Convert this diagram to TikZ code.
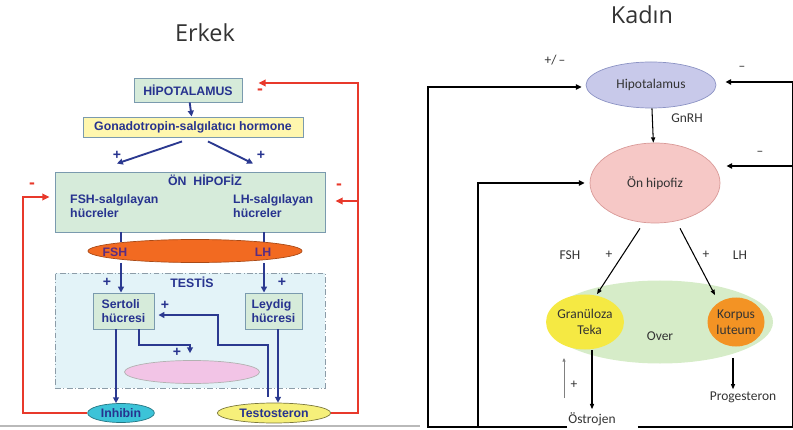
\documentclass[tikz,border=0pt]{standalone}
\usepackage{fontspec}
\setmainfont{Liberation Sans}
\newfontfamily\carfont{Carlito}
\newfontfamily\titlefont{Open Sans}
\usetikzlibrary{arrows.meta,positioning,calc,shapes.geometric}
\definecolor{boxgreen}{HTML}{D6EBDA}
\definecolor{boxedge}{HTML}{7A9AAE}
\definecolor{boxyellow}{HTML}{FFF7AE}
\definecolor{txtblue}{HTML}{27338F}
\definecolor{arrblue}{HTML}{2B3990}
\definecolor{fbred}{HTML}{E8392B}
\definecolor{fshorange}{HTML}{F26A21}
\definecolor{fshtxt}{HTML}{5A2D82}
\definecolor{testisfill}{HTML}{E3F3F8}
\definecolor{testisedge}{HTML}{8C9CA8}
\definecolor{pinkfill}{HTML}{F2C4E6}
\definecolor{inhcyan}{HTML}{3CC3D8}
\definecolor{tesyellow}{HTML}{F6F07A}
\definecolor{hypfill}{HTML}{C8C9EA}
\definecolor{hypedge}{HTML}{8C93C4}
\definecolor{onhfill}{HTML}{F6C8C6}
\definecolor{onhedge}{HTML}{D99A98}
\definecolor{overfill}{HTML}{D6ECC8}
\definecolor{granfill}{HTML}{F5E943}
\definecolor{korpfill}{HTML}{F39324}
\definecolor{darktxt}{HTML}{333333}

\begin{document}
\begin{tikzpicture}[x=0.03cm,y=-0.03cm,
    cellbox/.style={draw=boxedge,fill=boxgreen,line width=0.8pt,inner sep=0pt,
      font=\fontsize{10.5}{12.5}\selectfont\bfseries,text=txtblue,align=left},
    hormbox/.style={cellbox,fill=boxyellow},
    blobb/.style={ellipse,draw,line width=0.6pt,inner sep=0pt,
      font=\fontsize{10.5}{12.5}\selectfont\bfseries,text=txtblue},
    bluetxt/.style={font=\fontsize{10.5}{12.5}\selectfont\bfseries,text=txtblue,align=left,inner sep=0pt},
    plusb/.style={font=\fontsize{12}{12}\selectfont\bfseries,text=txtblue,inner sep=0pt},
    minusr/.style={font=\fontsize{15}{15}\selectfont\bfseries,text=fbred,inner sep=0pt},
    blarr/.style={-{Triangle[length=5pt,width=5pt]},arrblue,line width=1.6pt},
    blln/.style={arrblue,line width=1.6pt},
    redarr/.style={-{Triangle[length=6pt,width=5.5pt]},fbred,line width=1.5pt},
    redln/.style={fbred,line width=1.5pt},
    fem/.style={ellipse,draw,line width=0.6pt,inner sep=0pt,
      font=\carfont\fontsize{11.5}{13.5}\selectfont,text=darktxt,align=center},
    femtxt/.style={font=\carfont\fontsize{11.5}{13.5}\selectfont,text=darktxt,inner sep=0pt},
    blkarr/.style={-{Triangle[length=5pt,width=4.5pt]},line width=1.6pt},
    blkln/.style={line width=1.6pt},
    thinarr/.style={-{Triangle[length=4.5pt,width=3.5pt]},line width=0.9pt},
    ttl/.style={font=\titlefont\fontsize{20}{24}\selectfont,text=darktxt}
]
\useasboundingbox (0,0) rectangle (793,430);

% titles
\node[ttl] (terkek) at (205,33) {Erkek};
\node[ttl] (tkadin) at (642,15) {Kadın};

% left panel: male axis
\draw[gray!55,line width=1.2pt] (0,426) -- (420,426);
\node[cellbox,minimum width=3.24cm,minimum height=0.72cm,align=center] (hyp) at (188,90) {HİPOTALAMUS};
\node[hormbox,minimum width=6.6cm,minimum height=0.6cm,align=center] (gnrh) at (193,127) {Gonadotropin-salgılatıcı hormone};
\node[cellbox,minimum width=8.1cm,minimum height=1.8cm] (onhip) at (190,202) {};
\node[bluetxt] (onhiptxt) at (205,180) {ÖN\ \ HİPOFİZ};
\node[bluetxt,anchor=west] (fshcell) at (70,206) {FSH-salgılayan\\hücreler};
\node[bluetxt,anchor=west] (lhcell) at (233,206) {LH-salgılayan\\hücreler};

\node[draw=testisedge,dash pattern=on 5pt off 2pt on 1pt off 2pt,fill=testisfill,line width=0.8pt,
  minimum width=8.1cm,minimum height=3.45cm] (testis) at (190,330.5) {};
\node[bluetxt] (testistxt) at (192,282) {TESTİS};

\draw[blln] (121,232) -- (121,242);
\draw[blln] (264,232) -- (264,242);
\node[blobb,draw=fshorange!70!black,fill=fshorange,minimum width=6.42cm,minimum height=0.69cm] (fshlh) at (195,251) {};
\node[bluetxt,text=fshtxt] (fshtxt) at (115,252) {FSH};
\node[bluetxt,text=fshtxt] (lhtxt) at (263,252) {LH};

\node[cellbox,minimum width=1.83cm,minimum height=1.08cm] (sertoli) at (123.5,311) {Sertoli\\hücresi};
\node[cellbox,minimum width=1.71cm,minimum height=1.08cm] (leydig) at (273.5,311) {Leydig\\hücresi};
\node[blobb,draw=gray!60,fill=pinkfill,minimum width=4.05cm,minimum height=0.69cm] (pink) at (192,372) {};
\node[blobb,draw=inhcyan!60!black,fill=inhcyan,minimum width=2.0cm,minimum height=0.57cm] (inhibin) at (121,413) {Inhibin};
\node[blobb,draw=tesyellow!50!black,fill=tesyellow,minimum width=3.4cm,minimum height=0.6cm] (testo) at (274,413) {Testosteron};

\draw[blarr] (hyp) -- (gnrh);
\draw[blarr] ($(gnrh.south)+(-11,4)$) -- ($(onhip.north)+(-73,-8)$);
\draw[blarr] ($(gnrh.south)+(15,4)$) -- ($(onhip.north)+(63,-8)$);
\node[plusb] (p1) at (117,155) {+};
\node[plusb] (p2) at (261,155) {+};
\draw[blarr] (fshlh.south -| 121,0) -- (sertoli.north -| 121,0);
\draw[blarr] (fshlh.south -| 264,0) -- (leydig.north -| 264,0);
\node[plusb] (p3) at (107,282) {+};
\node[plusb] (p4) at (282,282) {+};
\draw[blarr] ($(testo.north)+(-6,-6)$) |- (218,345) |- ($(sertoli.east |- 0,315)+(4,0)$);
\node[plusb] (p5) at (165,305) {+};
\draw[blarr] ($(sertoli.south)+(15.5,0)$) |- (190,345) -- ($(pink.north)+(-2,-7)$);
\node[plusb] (p6) at (177,352) {+};
\draw[blarr] ($(sertoli.south)+(-7.5,0)$) -- ($(inhibin.north)+(-5,0)$);
\draw[blarr] ($(leydig.south)+(4.5,0)$) -- ($(testo.north)+(4,0)$);

% feedback
\draw[redarr] (testo.east) -- (358,413) |- ($(hyp.east)+(16,-7)$);
\draw[redarr] (358,201) -- ($(onhip.east)+(10,-1)$);
\draw[redarr] (inhibin.west) -- (23,413) |- ($(onhip.west)+(-5,-5)$);
\node[minusr] (m1) at (260,92) {-};
\node[minusr] (m2) at (339,187) {-};
\node[minusr] (m3) at (32,186) {-};

% right panel: female axis
\node[fem,draw=hypedge,fill=hypfill,minimum width=3.9cm,minimum height=1.38cm] (hypo2) at (651,85) {Hipotalamus};
\node[fem,draw=onhedge,fill=onhfill,minimum width=3.9cm,minimum height=2.4cm] (onh2) at (655,183) {Ön hipofiz};
\node[fem,draw=none,fill=overfill,minimum width=6.78cm,minimum height=2.49cm] (over) at (660,322) {};
\node[fem,draw=none,fill=granfill,minimum width=2.22cm,minimum height=1.65cm] (gran) at (585,322) {Granüloza\\\hspace*{8pt}Teka};
\node[fem,draw=none,fill=korpfill,minimum width=1.71cm,minimum height=1.47cm] (korp) at (736,322) {Korpus\\luteum};
\node[femtxt] (overtxt) at (660,336) {Over};
\node[femtxt] (ostro) at (592,419) {Östrojen};
\node[femtxt] (prog) at (743,397) {Progesteron};

\draw[thinarr] (hypo2) -- (onh2);
\node[femtxt] (gnrhtxt) at (687,118) {GnRH};
\draw[thinarr] ($(onh2.south)+(-15,5)$) -- ($(gran.north)+(12,0)$);
\draw[thinarr] ($(onh2.south)+(25,5)$) -- ($(korp.north)+(-21,-2)$);
\node[femtxt] (fshf) at (570,255) {FSH};
\node[femtxt] (pf1) at (609,255) {+};
\node[femtxt] (pf2) at (706,255) {+};
\node[femtxt] (lhf) at (740,255) {LH};
\draw[thinarr] ($(gran.south)+(7,0)$) -- ($(ostro.north)+(0,-3)$);
\draw[thinarr] ($(korp.south)+(-3,11)$) -- ($(prog.north)+(-10,-2)$);
\coordinate (upb) at (564,398);
\coordinate (upt) at (564,358);
\draw[-{Triangle[length=3pt,width=2.5pt]},gray,line width=0.8pt] (upb) -- (upt);
\node[femtxt] (pf3) at (574,385) {+};

\node[femtxt] (pm) at (555,60) {+/\,–};
\node[femtxt] (mf1) at (742,68) {–};
\node[femtxt] (mf2) at (760,153) {–};

\coordinate (rtop) at (793,82);
\coordinate (rmid) at (793,166);
\coordinate (rbot) at (793,427);
\draw[blkln] ($(ostro.east)+(22,8)$) -- (rbot) -- (rtop);
\draw[blkarr] (rtop) -- ($(hypo2.east)+(9,-3)$);
\draw[blkarr] (rmid) -- ($(onh2.east)+(6,-17)$);
\draw[blkarr] ($(ostro.west)+(-1,8)$) -- (428,427) |- ($(hypo2.west)+(-4,2)$);
\draw[blkarr] (478,427) |- ($(onh2.west)+(-5,0)$);
\end{tikzpicture}
\end{document}
